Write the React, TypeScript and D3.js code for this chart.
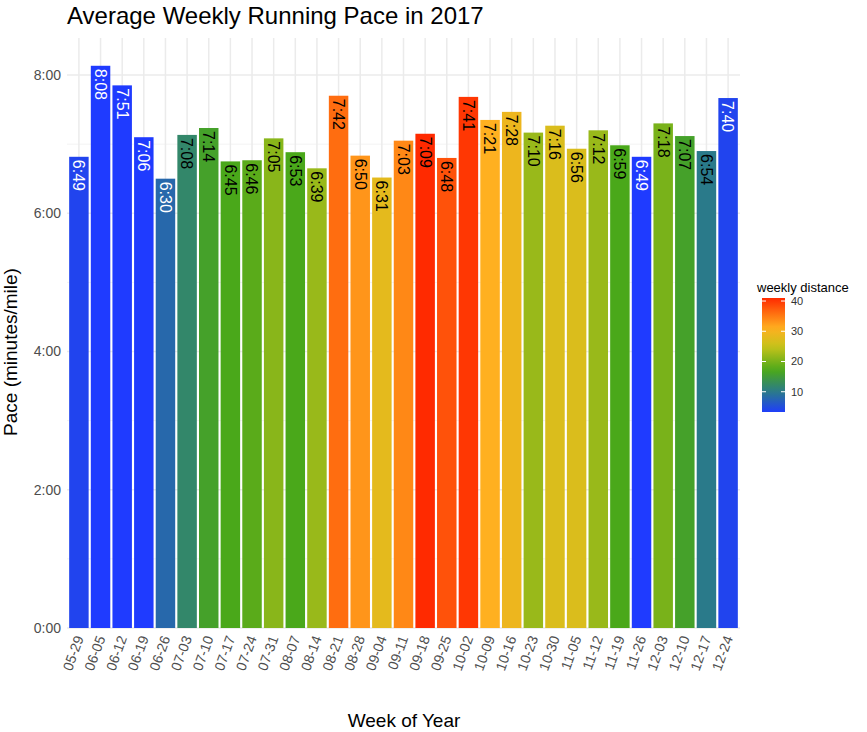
import * as d3 from "d3";

const weeks = ["05-29","06-05","06-12","06-19","06-26","07-03","07-10","07-17","07-24","07-31","08-07","08-14","08-21","08-28","09-04","09-11","09-18","09-25","10-02","10-09","10-16","10-23","10-30","11-05","11-12","11-19","11-26","12-03","12-10","12-17","12-24"];
const paces = ["6:49","8:08","7:51","7:06","6:30","7:08","7:14","6:45","6:46","7:05","6:53","6:39","7:42","6:50","6:31","7:03","7:09","6:48","7:41","7:21","7:28","7:10","7:16","6:56","7:12","6:59","6:49","7:18","7:07","6:54","7:40"];
const distances = [4,3,3,3,8,12,16,17,18,21,17,22,36,33,28,34,41,38,40,31,29,22,27,27,22,17,3,20,16,10,4];
const yTicks = [0, 120, 240, 360, 480];
const legendTicks = [10, 20, 30, 40];

const toSec = (s: string) => { const [m, x] = s.split(":").map(Number); return m * 60 + x; };
const fmt = (v: number) => `${Math.floor(v / 60)}:${String(v % 60).padStart(2, "0")}`;

export default function App() {
  const m = { left: 67, right: 127, top: 38, bottom: 628 };
  const x = d3.scaleBand<string>().domain(weeks).range([m.left, 740]).padding(0.1);
  const y = d3.scaleLinear().domain([0, 480]).range([628, 75]);
  const color = d3.scaleLinear<string>()
    .domain([3, 10, 17, 25, 31, 41])
    .range(["#1f3bff", "#2a7a8a", "#4aa81a", "#c8c31a", "#ffb020", "#ff2a00"]);
  const ly = d3.scaleLinear().domain([3.3, 41]).range([412, 298]);
  const font = "Liberation Sans, Arial, sans-serif";
  const stops = d3.range(0, 1.001, 0.05);

  return (
    <svg width={867} height={732} style={{ position: "absolute", left: 0, top: 0, fontFamily: font }}>
      <rect width={867} height={732} fill="white" />
      {d3.range(0, 481, 60).filter(v => v % 120 !== 0).map(v => (
        <line key={"mn" + v} x1={m.left} x2={740} y1={y(v)} y2={y(v)} stroke="#f3f3f3" strokeWidth={1} />
      ))}
      {yTicks.map(v => (
        <g key={v}>
          <line x1={m.left} x2={740} y1={y(v)} y2={y(v)} stroke="#ebebeb" strokeWidth={1.5} />
          <text x={61} y={y(v)} dy="0.35em" textAnchor="end" fontSize={14} fill="#4d4d4d">{fmt(v)}</text>
        </g>
      ))}
      {weeks.map(w => (
        <line key={"v" + w} x1={x(w)! + x.bandwidth() / 2} x2={x(w)! + x.bandwidth() / 2} y1={38} y2={628} stroke="#ebebeb" strokeWidth={1.5} />
      ))}
      {weeks.map((w, i) => {
        const cx = x(w)! + x.bandwidth() / 2;
        const top = y(toSec(paces[i]));
        return (
          <g key={w}>
            <rect x={x(w)} y={top} width={x.bandwidth()} height={628 - top} fill={color(distances[i])} />
            <text transform={`translate(${cx},${top + 3}) rotate(90)`} dy="0.35em" fontSize={16}
              fill={distances[i] < 9 ? "white" : "black"}>{paces[i]}</text>
            <text transform={`translate(${cx + 5},${638}) rotate(-70)`} textAnchor="end" fontSize={14} fill="#4d4d4d">{w}</text>
          </g>
        );
      })}
      <text x={67} y={24} fontSize={24} fill="black">Average Weekly Running Pace in 2017</text>
      <text x={404} y={727} textAnchor="middle" fontSize={19}>Week of Year</text>
      <text transform="translate(17,352) rotate(-90)" textAnchor="middle" fontSize={19}>Pace (minutes/mile)</text>
      <text x={757} y={292} fontSize={13}>weekly distance</text>
      <defs>
        <linearGradient id="lg" x1="0" y1="1" x2="0" y2="0">
          {stops.map(t => <stop key={t} offset={t} stopColor={color(3.3 + t * (41 - 3.3))} />)}
        </linearGradient>
      </defs>
      <rect x={762} y={298} width={23} height={114} fill="url(#lg)" />
      {legendTicks.map(t => (
        <g key={t}>
          <line x1={762} x2={766} y1={ly(t)} y2={ly(t)} stroke="white" />
          <line x1={781} x2={785} y1={ly(t)} y2={ly(t)} stroke="white" />
          <text x={791} y={ly(t)} dy="0.35em" fontSize={11} fill="#333">{t}</text>
        </g>
      ))}
    </svg>
  );
}
